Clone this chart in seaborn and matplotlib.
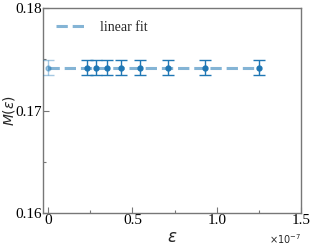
import numpy as np
import pandas as pd
import seaborn as sns
import matplotlib
matplotlib.use("Agg")
import matplotlib.pyplot as plt
from matplotlib.ticker import MultipleLocator, ScalarFormatter

sns.set_style("ticks")
plt.rcParams['font.family'] = ['Liberation Serif', 'DejaVu Serif']
plt.rcParams['mathtext.fontset'] = 'dejavusans'

eps = [0.229e-7, 0.282e-7, 0.347e-7, 0.435e-7, 0.547e-7, 0.712e-7, 0.929e-7, 1.253e-7]
M = [0.1742, 0.1742, 0.1742, 0.1742, 0.1742, 0.1742, 0.1742, 0.1742]
Merr = [0.0007, 0.0007, 0.0007, 0.0007, 0.0007, 0.0007, 0.0007, 0.0007]
eps0 = [0.0]
M0 = [0.1742]
M0err = [0.0007]
fit_x = [0.0, 1.253e-7]
fit_y = [0.1742, 0.1742]

fig = plt.figure(figsize=(3.14, 2.46), dpi=100)
ax = fig.add_axes([0.137, 0.134, 0.822, 0.833])

c = '#1f77b4'
ax.errorbar(eps, M, yerr=Merr, fmt='o', color=c, ms=3.5, capsize=4, elinewidth=1, capthick=1, zorder=3)
ax.errorbar(eps0, M0, yerr=M0err, fmt='o', color=c, alpha=0.4, ms=3.5, capsize=4, elinewidth=1, capthick=1, zorder=3)
fit = pd.DataFrame({'x': fit_x, 'y': fit_y})
sns.lineplot(data=fit, x='x', y='y', ax=ax, color=c, alpha=0.55, lw=2.2, linestyle='--', label='linear fit', zorder=2)

ax.set_xlim(-0.03e-7, 1.5e-7)
ax.set_ylim(0.16, 0.18)
ax.set_xticks([0, 0.5e-7, 1.0e-7, 1.5e-7])
ax.set_yticks([0.16, 0.17, 0.18])
ax.xaxis.set_minor_locator(MultipleLocator(0.25e-7))
ax.yaxis.set_minor_locator(MultipleLocator(0.005))
ax.set_xticklabels(['0', '0.5', '1.0', '1.5'])
ax.tick_params(direction='in', which='both', labelsize=11, colors='#777777', labelcolor='black', length=4, width=0.8, pad=1)
ax.tick_params(which='minor', length=2)
for s in ax.spines.values():
    s.set_color('#777777')
    s.set_linewidth(1)
ax.set_xlabel(r'$\varepsilon$', fontsize=12, labelpad=2)
ax.set_ylabel(r'$M(\varepsilon)$', fontsize=10)
ax.yaxis.set_label_coords(-0.1, 0.5)
ax.text(1.0, -0.095, r'$\times10^{-7}$', transform=ax.transAxes, fontsize=7, ha='right', va='top', family='DejaVu Sans')
leg = ax.legend(loc='upper left', frameon=False, fontsize=10, handlelength=2.2, handletextpad=1.0, borderaxespad=0.5)
fig.savefig('out.png', dpi=100)
